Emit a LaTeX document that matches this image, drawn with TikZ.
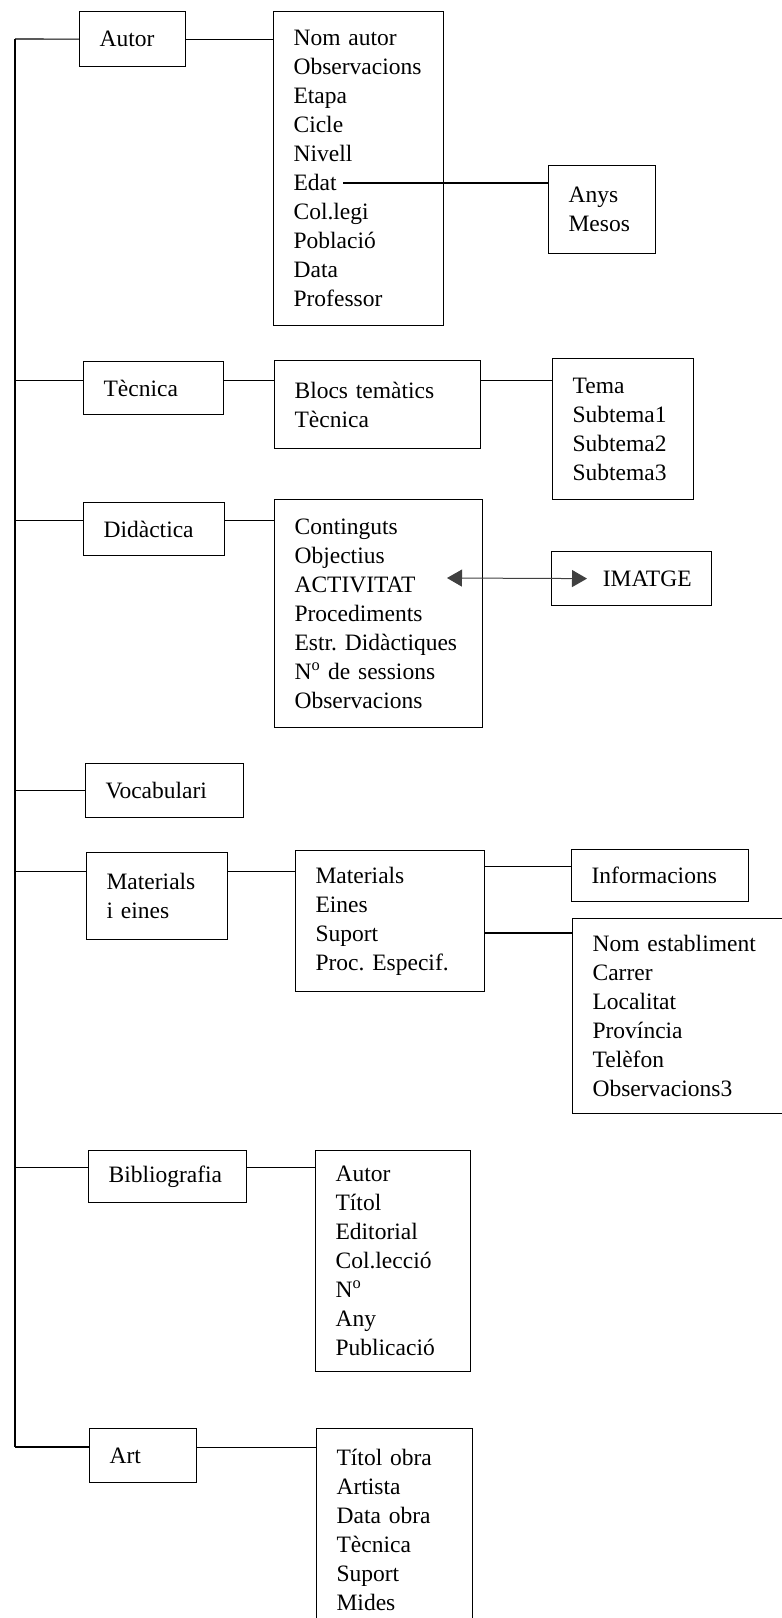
\documentclass[tikz,border=0pt]{standalone}
\usepackage{fontspec}
\setmainfont{Liberation Serif}
\usetikzlibrary{arrows.meta}
\frenchspacing

\begin{document}
\begin{tikzpicture}[x=1pt, y=-1pt, line width=1.2pt,
    box/.style={draw, anchor=north west, align=left, inner xsep=20pt, inner ysep=0pt,
        font=\fontsize{23.5}{29}\selectfont},
    link/.style={line width=1.1pt}]
    \useasboundingbox (0,0) rectangle (782,1618);

    \begin{scope}
        \node[box, text width=66pt, minimum height=55pt] (autor) at (79,11) {Autor};
        \node[box, text width=130pt, minimum height=314pt] (autorlist) at (273,11)
            {Nom autor\\Observacions\\Etapa\\Cicle\\Nivell\\Edat\\Col.legi\\Població\\Data\\Professor};
        \node[box, text width=67pt, minimum height=88pt] (anys) at (548,165) {Anys\\Mesos};
        \coordinate (edat) at (343,183);
        \draw[link] (autor.east) -- (autor.east -| autorlist.west);
        \draw[link] (edat) -- (edat -| anys.west);
    \end{scope}

    \begin{scope}
        \node[box, text width=100pt, minimum height=53pt] (tecnica) at (83,361) {Tècnica};
        \node[box, text width=166pt, minimum height=88pt] (blocs) at (274,360) {Blocs temàtics\\Tècnica};
        \node[box, text width=101pt, minimum height=141pt] (tema) at (552,358)
            {Tema\\Subtema1\\Subtema2\\Subtema3};
        \draw[link] ([yshift=8pt]tecnica.east) -- ([yshift=8pt]tecnica.east -| blocs.west);
        \draw[link] ([yshift=8pt]tecnica.east -| blocs.east) -- ([yshift=8pt]tecnica.east -| tema.west);
    \end{scope}

    \begin{scope}
        \node[box, text width=101pt, minimum height=53pt] (didactica) at (83,502) {Didàctica};
        \node[box, text width=168pt, minimum height=228pt] (continguts) at (274,499)
            {Continguts\\Objectius\\ACTIVITAT\\Procediments\\Estr. Didàctiques\\N\textsuperscript{o} de sessions\\Observacions};
        \node[box, text width=120pt, align=right, minimum height=54pt] (imatge) at (551,551) {IMATGE};
        \coordinate (activitat) at (447,578);
        \draw[link] ([yshift=9pt]didactica.east) -- ([yshift=9pt]didactica.east -| continguts.west);
        \draw[line width=1pt, black!75, {Triangle[length=15pt,width=17pt]}-{Triangle[length=15pt,width=17pt]}]
            (activitat) -- ([xshift=36pt]imatge.west);
    \end{scope}

    \node[box, text width=118pt, minimum height=54pt] (vocabulari) at (85,763) {Vocabulari};

    \begin{scope}
        \node[box, text width=101pt, minimum height=87pt] (materials) at (86,852) {Materials\\i eines};
        \node[box, text width=149pt, minimum height=141pt] (matlist) at (295,850)
            {Materials\\Eines\\Suport\\Proc. Especif.};
        \node[box, text width=137pt, minimum height=52pt] (info) at (571,849) {Informacions};
        \node[box, text width=180pt, minimum height=195pt] (establ) at (572,918)
            {Nom establiment\\Carrer\\Localitat\\Província\\Telèfon\\Observacions3};
        \draw[link] ([yshift=25pt]materials.east) -- ([yshift=25pt]materials.east -| matlist.west);
        \draw[link] ([yshift=9pt]info.west -| matlist.east) -- ([yshift=9pt]info.west);
        \draw[link] ([yshift=-15pt]establ.north west -| matlist.east) -- ([yshift=-15pt]establ.north west);
    \end{scope}

    \begin{scope}
        \node[box, text width=118pt, minimum height=52pt] (biblio) at (88,1150) {Bibliografia};
        \node[box, text width=115pt, minimum height=221pt] (bibllist) at (315,1150)
            {Autor\\Títol\\Editorial\\Col.lecció\\N\textsuperscript{o}\\Any\\Publicació};
        \draw[link] ([yshift=9pt]biblio.east) -- ([yshift=9pt]biblio.east -| bibllist.west);
    \end{scope}

    \begin{scope}
        \node[box, text width=67pt, minimum height=54pt] (art) at (89,1428) {Art};
        \node[box, text width=116pt, minimum height=202pt] (artlist) at (316,1428)
            {Títol obra\\Artista\\Data obra\\Tècnica\\Suport\\Mides};
        \draw[link] ([yshift=8pt]art.east) -- ([yshift=8pt]art.east -| artlist.west);
    \end{scope}

    \coordinate (top) at (15,39);
    \coordinate (bottom) at (15,1447);
    \draw[link] (top) -- (bottom);
    \draw[link] (top) -- (autor.west);
    \draw[link] ([yshift=8pt]tecnica.west -| top) -- ([yshift=8pt]tecnica.west);
    \draw[link] ([yshift=9pt]didactica.west -| top) -- ([yshift=9pt]didactica.west);
    \draw[link] (vocabulari.west -| top) -- (vocabulari.west);
    \draw[link] ([yshift=25pt]materials.west -| top) -- ([yshift=25pt]materials.west);
    \draw[link] ([yshift=9pt]biblio.west -| top) -- ([yshift=9pt]biblio.west);
    \draw[link] (bottom) -- (bottom -| art.west);
\end{tikzpicture}
\end{document}
